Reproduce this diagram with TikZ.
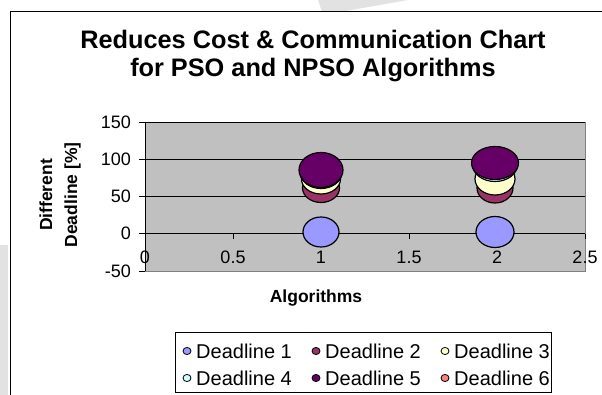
\documentclass[tikz,border=0pt]{standalone}
\usepackage{fontspec}
\setmainfont{Liberation Sans}
\definecolor{plotbg}{HTML}{C0C0C0}
\definecolor{dA}{HTML}{9999FF}
\definecolor{dB}{HTML}{993366}
\definecolor{dC}{HTML}{FFFFCC}
\definecolor{dD}{HTML}{CCFFFF}
\definecolor{dE}{HTML}{660066}
\definecolor{dF}{HTML}{FF8080}
\definecolor{wmark}{HTML}{E2E2E2}
\tikzset{
  bubble/.style={draw=black, line width=1.2pt},
  ticklab/.style={font=\fontsize{18}{20}\selectfont, inner sep=0pt},
  legtext/.style={font=\fontsize{20}{22}\selectfont, anchor=west, inner sep=0pt},
  legmark/.style={draw=black, line width=0.8pt},
  grid line/.style={draw=black, line width=0.9pt},
}
\begin{document}
\begin{tikzpicture}[x=1pt,y=-1pt]
\useasboundingbox (0,0) rectangle (602,395);
\fill[white] (0,0) rectangle (602,395);
% faint watermark
\fill[wmark] (318,0) -- (408,0) -- (340,12) -- (322,12) -- cycle;
\fill[wmark] (0,245) -- (8,245) -- (8,395) -- (0,395) -- cycle;
% outer frame
\draw[black, line width=1pt] (10,395) -- (10,12) -- (602,12);
% title
\node[font=\bfseries\fontsize{25.3}{28}\selectfont, align=center] (title) at (313,56) {Reduces Cost \& Communication Chart\\for PSO and NPSO Algorithms};
% plot area
\fill[plotbg] (145,122) rectangle (585,271);
\draw[draw=gray, line width=0.8pt] (145,271) -- (585,271) -- (585,122);
\foreach \yy in {122,159.25,196.5} \draw[grid line] (145,\yy) -- (585,\yy);
% x axis
\draw[grid line] (145,233.75) -- (585,233.75);
\foreach \xx in {233,321,409,497,585} \draw[black, line width=0.9pt] (\xx,233.75) -- (\xx,239);
% y axis
\draw[black, line width=1pt] (145,122) -- (145,271);
\foreach \yy in {122,159.25,196.5,233.75,271} \draw[black, line width=0.9pt] (139,\yy) -- (145,\yy);
% y tick labels
\node[ticklab, anchor=east] (y150) at (131,122) {150};
\node[ticklab, anchor=east] (y100) at (131,159.25) {100};
\node[ticklab, anchor=east] (y50) at (131,196.5) {50};
\node[ticklab, anchor=east] (y0) at (131,233.75) {0};
\node[ticklab, anchor=east] (ym50) at (131,271) {-50};
% x tick labels
\node[ticklab] (x0) at (145,257) {0};
\node[ticklab] (x05) at (233,257) {0.5};
\node[ticklab] (x1) at (321,257) {1};
\node[ticklab] (x15) at (409,257) {1.5};
\node[ticklab] (x2) at (497,257) {2};
\node[ticklab] (x25) at (585,257) {2.5};
% axis titles
\node[font=\bfseries\fontsize{17.5}{25}\selectfont, align=center, rotate=90] (ytitle) at (60,195) {Different\\Deadline [\%]};
\node[font=\bfseries\fontsize{17.5}{20}\selectfont] (xtitle) at (316,298) {Algorithms};
% bubbles at x=1
\filldraw[bubble, fill=dA] (321,232) ellipse [x radius=18, y radius=15];
\filldraw[bubble, fill=dB] (321,188) ellipse [x radius=18.5, y radius=14.5];
\filldraw[bubble, fill=dC] (321,179) ellipse [x radius=19.5, y radius=15];
\filldraw[bubble, fill=dD] (321,173) ellipse [x radius=20.5, y radius=15.5];
\filldraw[bubble, fill=dE] (321,170) ellipse [x radius=22, y radius=17.5];
% bubbles at x=2
\filldraw[bubble, fill=dA] (495,232) ellipse [x radius=19, y radius=15.5];
\filldraw[bubble, fill=dB] (495,188) ellipse [x radius=18, y radius=15];
\filldraw[bubble, fill=dC] (495,179) ellipse [x radius=20, y radius=16];
\filldraw[bubble, fill=dD] (495,164.5) ellipse [x radius=22.5, y radius=17];
\filldraw[bubble, fill=dE] (495,163) ellipse [x radius=23.5, y radius=16.5];
% legend
\draw[black, line width=0.9pt, fill=white] (175,332) rectangle (551,392);
\filldraw[legmark, fill=dA] (187,351) ellipse [x radius=4, y radius=3.6];
\node[legtext] (l1) at (196,351) {Deadline 1};
\filldraw[legmark, fill=dB] (316,351) ellipse [x radius=4, y radius=3.6];
\node[legtext] (l2) at (325,351) {Deadline 2};
\filldraw[legmark, fill=dC] (445,351) ellipse [x radius=4, y radius=3.6];
\node[legtext] (l3) at (454,351) {Deadline 3};
\filldraw[legmark, fill=dD] (187,378) ellipse [x radius=4, y radius=3.6];
\node[legtext] (l4) at (196,378) {Deadline 4};
\filldraw[legmark, fill=dE] (316,378) ellipse [x radius=4, y radius=3.6];
\node[legtext] (l5) at (325,378) {Deadline 5};
\filldraw[legmark, fill=dF] (445,378) ellipse [x radius=4, y radius=3.6];
\node[legtext] (l6) at (454,378) {Deadline 6};
\end{tikzpicture}
\end{document}
